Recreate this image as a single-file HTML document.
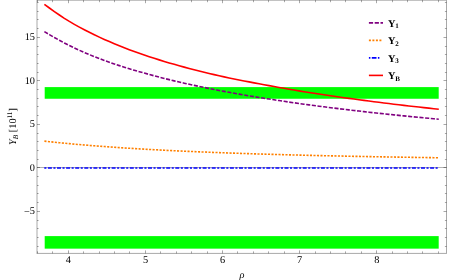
<!DOCTYPE html>
<html><head><meta charset="utf-8"><style>
html,body{margin:0;padding:0;background:#fff;}
svg{display:block;will-change:transform}
text{font-family:"Liberation Serif",serif;font-size:10.3px;fill:#000;text-rendering:geometricPrecision}
</style></head><body>
<svg width="453" height="280" viewBox="0 0 453 280">
<rect width="453" height="280" fill="#fff"/>
<rect x="44.7" y="87.1" width="394" height="11.65" fill="#00ff00"/>
<rect x="44.7" y="236.1" width="394" height="12.55" fill="#00ff00"/>
<path d="M44.40 31.58 L49.39 34.62 L54.38 37.52 L59.38 40.31 L64.37 42.98 L69.36 45.53 L74.35 47.97 L79.35 50.28 L84.34 52.47 L89.33 54.58 L94.32 56.60 L99.32 58.55 L104.31 60.43 L109.30 62.23 L114.29 63.97 L119.29 65.63 L124.28 67.23 L129.27 68.76 L134.26 70.25 L139.26 71.69 L144.25 73.10 L149.24 74.48 L154.23 75.83 L159.23 77.13 L164.22 78.41 L169.21 79.65 L174.20 80.85 L179.19 82.03 L184.19 83.17 L189.18 84.28 L194.17 85.37 L199.16 86.43 L204.16 87.47 L209.15 88.48 L214.14 89.47 L219.13 90.44 L224.13 91.38 L229.12 92.31 L234.11 93.21 L239.10 94.10 L244.10 94.97 L249.09 95.82 L254.08 96.65 L259.07 97.47 L264.07 98.27 L269.06 99.06 L274.05 99.83 L279.04 100.58 L284.04 101.33 L289.03 102.06 L294.02 102.77 L299.01 103.48 L304.01 104.17 L309.00 104.85 L313.99 105.51 L318.98 106.17 L323.97 106.82 L328.97 107.45 L333.96 108.08 L338.95 108.69 L343.94 109.30 L348.94 109.89 L353.93 110.48 L358.92 111.06 L363.91 111.63 L368.91 112.19 L373.90 112.74 L378.89 113.28 L383.88 113.82 L388.88 114.35 L393.87 114.87 L398.86 115.38 L403.85 115.89 L408.85 116.39 L413.84 116.88 L418.83 117.36 L423.82 117.84 L428.82 118.32 L433.81 118.78 L438.80 119.24" fill="none" stroke="#800080" stroke-width="1.6" stroke-dasharray="4.1 1.6"/>
<path d="M44.40 141.15 L49.39 141.69 L54.38 142.21 L59.38 142.71 L64.37 143.20 L69.36 143.67 L74.35 144.12 L79.35 144.56 L84.34 144.99 L89.33 145.40 L94.32 145.80 L99.32 146.18 L104.31 146.55 L109.30 146.91 L114.29 147.26 L119.29 147.60 L124.28 147.93 L129.27 148.25 L134.26 148.56 L139.26 148.86 L144.25 149.15 L149.24 149.43 L154.23 149.70 L159.23 149.97 L164.22 150.22 L169.21 150.47 L174.20 150.72 L179.19 150.95 L184.19 151.18 L189.18 151.41 L194.17 151.62 L199.16 151.84 L204.16 152.04 L209.15 152.24 L214.14 152.44 L219.13 152.63 L224.13 152.81 L229.12 152.99 L234.11 153.17 L239.10 153.34 L244.10 153.51 L249.09 153.67 L254.08 153.83 L259.07 153.98 L264.07 154.13 L269.06 154.28 L274.05 154.42 L279.04 154.56 L284.04 154.70 L289.03 154.84 L294.02 154.97 L299.01 155.09 L304.01 155.22 L309.00 155.34 L313.99 155.46 L318.98 155.58 L323.97 155.69 L328.97 155.80 L333.96 155.91 L338.95 156.02 L343.94 156.12 L348.94 156.23 L353.93 156.33 L358.92 156.42 L363.91 156.52 L368.91 156.62 L373.90 156.71 L378.89 156.80 L383.88 156.89 L388.88 156.97 L393.87 157.06 L398.86 157.14 L403.85 157.22 L408.85 157.30 L413.84 157.38 L418.83 157.46 L423.82 157.53 L428.82 157.61 L433.81 157.68 L438.80 157.75" fill="none" stroke="#ff8000" stroke-width="1.6" stroke-dasharray="2.1 1.4"/>
<path d="M37.0 167.5 H446.5" fill="none" stroke="#000" stroke-opacity="0.3" stroke-width="1"/>
<path d="M44.3 167.9 H438.4" fill="none" stroke="#0000ff" stroke-width="1.5" stroke-dasharray="2.1 1.5 4.0 1.5"/>
<path d="M44.40 4.33 L49.39 8.00 L54.38 11.56 L59.38 15.01 L64.37 18.31 L69.36 21.43 L74.35 24.34 L79.35 27.12 L84.34 29.77 L89.33 32.33 L94.32 34.78 L99.32 37.14 L104.31 39.41 L109.30 41.60 L114.29 43.71 L119.29 45.75 L124.28 47.72 L129.27 49.63 L134.26 51.47 L139.26 53.25 L144.25 54.98 L149.24 56.66 L154.23 58.29 L159.23 59.87 L164.22 61.40 L169.21 62.90 L174.20 64.35 L179.19 65.76 L184.19 67.14 L189.18 68.48 L194.17 69.78 L199.16 71.06 L204.16 72.29 L209.15 73.49 L214.14 74.65 L219.13 75.77 L224.13 76.85 L229.12 77.91 L234.11 78.94 L239.10 79.95 L244.10 80.94 L249.09 81.91 L254.08 82.86 L259.07 83.80 L264.07 84.73 L269.06 85.65 L274.05 86.56 L279.04 87.46 L284.04 88.33 L289.03 89.19 L294.02 90.04 L299.01 90.87 L304.01 91.68 L309.00 92.48 L313.99 93.26 L318.98 94.03 L323.97 94.79 L328.97 95.53 L333.96 96.27 L338.95 96.98 L343.94 97.69 L348.94 98.39 L353.93 99.07 L358.92 99.74 L363.91 100.41 L368.91 101.06 L373.90 101.70 L378.89 102.33 L383.88 102.95 L388.88 103.57 L393.87 104.17 L398.86 104.76 L403.85 105.35 L408.85 105.93 L413.84 106.49 L418.83 107.05 L423.82 107.61 L428.82 108.15 L433.81 108.69 L438.80 109.22" fill="none" stroke="#ff0000" stroke-width="1.6"/>
<rect x="37.0" y="0.2" width="409.5" height="253.20000000000002" fill="none" stroke="#000" stroke-opacity="0.34" stroke-width="1"/>
<path d="M37.5 253.4 v-2.0 M37.5 0.2 v2.0 M52.5 253.4 v-2.0 M52.5 0.2 v2.0 M68.5 253.4 v-3.0 M68.5 0.2 v3.0 M83.5 253.4 v-2.0 M83.5 0.2 v2.0 M99.5 253.4 v-2.0 M99.5 0.2 v2.0 M114.5 253.4 v-2.0 M114.5 0.2 v2.0 M129.5 253.4 v-2.0 M129.5 0.2 v2.0 M145.5 253.4 v-3.0 M145.5 0.2 v3.0 M160.5 253.4 v-2.0 M160.5 0.2 v2.0 M176.5 253.4 v-2.0 M176.5 0.2 v2.0 M191.5 253.4 v-2.0 M191.5 0.2 v2.0 M207.5 253.4 v-2.0 M207.5 0.2 v2.0 M222.5 253.4 v-3.0 M222.5 0.2 v3.0 M237.5 253.4 v-2.0 M237.5 0.2 v2.0 M253.5 253.4 v-2.0 M253.5 0.2 v2.0 M268.5 253.4 v-2.0 M268.5 0.2 v2.0 M284.5 253.4 v-2.0 M284.5 0.2 v2.0 M299.5 253.4 v-3.0 M299.5 0.2 v3.0 M315.5 253.4 v-2.0 M315.5 0.2 v2.0 M330.5 253.4 v-2.0 M330.5 0.2 v2.0 M345.5 253.4 v-2.0 M345.5 0.2 v2.0 M361.5 253.4 v-2.0 M361.5 0.2 v2.0 M376.5 253.4 v-3.0 M376.5 0.2 v3.0 M392.5 253.4 v-2.0 M392.5 0.2 v2.0 M407.5 253.4 v-2.0 M407.5 0.2 v2.0 M422.5 253.4 v-2.0 M422.5 0.2 v2.0 M438.5 253.4 v-2.0 M438.5 0.2 v2.0 M37.0 246.5 h1.6 M446.5 246.5 h-1.6 M37.0 237.5 h1.6 M446.5 237.5 h-1.6 M37.0 228.5 h1.6 M446.5 228.5 h-1.6 M37.0 220.5 h1.6 M446.5 220.5 h-1.6 M37.0 211.5 h3.0 M446.5 211.5 h-3.0 M37.0 202.5 h1.6 M446.5 202.5 h-1.6 M37.0 193.5 h1.6 M446.5 193.5 h-1.6 M37.0 185.5 h1.6 M446.5 185.5 h-1.6 M37.0 176.5 h1.6 M446.5 176.5 h-1.6 M37.0 167.5 h3.0 M446.5 167.5 h-3.0 M37.0 159.5 h1.6 M446.5 159.5 h-1.6 M37.0 150.5 h1.6 M446.5 150.5 h-1.6 M37.0 141.5 h1.6 M446.5 141.5 h-1.6 M37.0 133.5 h1.6 M446.5 133.5 h-1.6 M37.0 124.5 h3.0 M446.5 124.5 h-3.0 M37.0 115.5 h1.6 M446.5 115.5 h-1.6 M37.0 106.5 h1.6 M446.5 106.5 h-1.6 M37.0 98.5 h1.6 M446.5 98.5 h-1.6 M37.0 89.5 h1.6 M446.5 89.5 h-1.6 M37.0 80.5 h3.0 M446.5 80.5 h-3.0 M37.0 72.5 h1.6 M446.5 72.5 h-1.6 M37.0 63.5 h1.6 M446.5 63.5 h-1.6 M37.0 54.5 h1.6 M446.5 54.5 h-1.6 M37.0 46.5 h1.6 M446.5 46.5 h-1.6 M37.0 37.5 h3.0 M446.5 37.5 h-3.0 M37.0 28.5 h1.6 M446.5 28.5 h-1.6 M37.0 19.5 h1.6 M446.5 19.5 h-1.6 M37.0 11.5 h1.6 M446.5 11.5 h-1.6 M37.0 2.5 h1.6 M446.5 2.5 h-1.6" fill="none" stroke="#000" stroke-opacity="0.34" stroke-width="1"/>
<text x="68.4" y="262.5" text-anchor="middle">4</text><text x="145.5" y="262.5" text-anchor="middle">5</text><text x="222.6" y="262.5" text-anchor="middle">6</text><text x="299.7" y="262.5" text-anchor="middle">7</text><text x="376.8" y="262.5" text-anchor="middle">8</text>
<text x="35.0" y="214.10" text-anchor="end"><tspan dy="0.8">−</tspan><tspan dy="-0.8">5</tspan></text><text x="35.0" y="170.60" text-anchor="end">0</text><text x="35.0" y="127.10" text-anchor="end">5</text><text x="35.0" y="83.60" text-anchor="end">10</text><text x="35.0" y="40.10" text-anchor="end">15</text>
<text x="241.9" y="277.5" text-anchor="middle" font-style="italic">ρ</text>
<text transform="translate(16 126.5) rotate(-90)" text-anchor="middle"><tspan font-style="italic">Y</tspan><tspan font-style="italic" font-size="7.2" dy="1.6">B</tspan><tspan dy="-1.6"> [10</tspan><tspan font-size="7.2" dy="-4">11</tspan><tspan dy="4">]</tspan></text>
<g font-weight="bold">
<path d="M368.9 22.9 H383" stroke="#800080" stroke-width="1.6" stroke-dasharray="4.2 1.6" fill="none"/>
<text x="387.9" y="26.5">Y<tspan font-size="7" dx="-0.2" dy="1.5">1</tspan></text>
<path d="M368.9 40.4 H382.3" stroke="#ff8000" stroke-width="1.6" stroke-dasharray="2 1.5" fill="none"/>
<text x="387.9" y="44.0">Y<tspan font-size="7" dx="-0.2" dy="1.5">2</tspan></text>
<path d="M368.9 57.9 H380.4" stroke="#0000ff" stroke-width="1.6" stroke-dasharray="1.5 1.4 4.7 1.4" fill="none"/>
<text x="387.9" y="61.5">Y<tspan font-size="7" dx="-0.2" dy="1.5">3</tspan></text>
<path d="M368.9 75.4 H383" stroke="#ff0000" stroke-width="1.6" fill="none"/>
<text x="387.9" y="79.0">Y<tspan font-size="7" dx="-0.2" dy="1.5">B</tspan></text>
</g>
</svg>
</body></html>
